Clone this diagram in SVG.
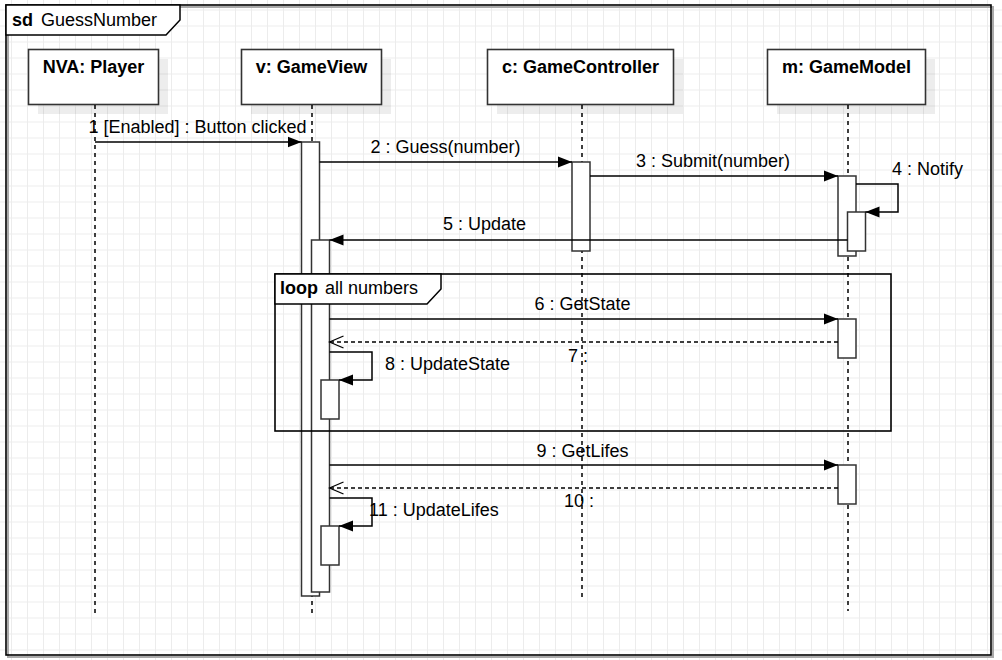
<svg xmlns="http://www.w3.org/2000/svg" width="1002" height="660" viewBox="0 0 1002 660">
<defs>
<pattern id="grid" patternUnits="userSpaceOnUse" x="11" y="9.5" width="16" height="16">
<path d="M0.5 0V16M0 0.5H16" fill="none" stroke="#ececec" stroke-width="1"/>
</pattern>
<marker id="fill" markerUnits="userSpaceOnUse" markerWidth="16" markerHeight="12" refX="14" refY="6" orient="auto">
<path d="M0,0.5 L14,6 L0,11.5 z" fill="#000"/>
</marker>
<marker id="open" markerUnits="userSpaceOnUse" markerWidth="16" markerHeight="14" refX="14.5" refY="7" orient="auto">
<path d="M0.5,1 L14.5,7 L0.5,13" fill="none" stroke="#000" stroke-width="1.3"/>
</marker>
</defs>
<style>
text{font-family:"Liberation Sans",Arial,sans-serif;font-size:18px;fill:#000}
.b{font-weight:bold}
.head{fill:#fff;stroke:#333;stroke-width:1.6}
.shadow{fill:#000;fill-opacity:0.07}
.life{stroke:#000;stroke-width:1.5;stroke-dasharray:4 4;fill:none}
.act{fill:#fff;stroke:#333;stroke-width:1.5}
.msg{stroke:#000;stroke-width:1.5;fill:none;marker-end:url(#fill)}
.ret{stroke:#000;stroke-width:1.3;fill:none;stroke-dasharray:4 3;marker-end:url(#open)}
.frame{fill:none;stroke:#000;stroke-width:1.6}
.lbl{fill:#fff;stroke:#000;stroke-width:1.5}
</style>
<rect width="1002" height="660" fill="#fff"/>
<rect width="1002" height="660" fill="url(#grid)"/>

<g id="frame">
<rect x="8" y="7" width="985" height="650" fill="none" stroke="#aaa" stroke-width="2"/>
<rect x="6" y="5" width="985" height="650" class="frame"/>
<path d="M6,5 H180 V20 L166,35 H6 Z" class="lbl"/>
<text x="12" y="26" class="b">sd</text>
<text x="41" y="26">GuessNumber</text>
</g>

<g id="player">
<rect x="38" y="59" width="130" height="55" class="shadow"/>
<rect x="28.5" y="49.5" width="130" height="55" class="head"/>
<text x="93.5" y="73" text-anchor="middle" class="b">NVA: Player</text>
<line x1="95" y1="105" x2="95" y2="613" class="life"/>
</g>

<g id="gameview">
<rect x="251" y="59" width="140" height="55" class="shadow"/>
<rect x="241.5" y="49.5" width="140" height="55" class="head"/>
<text x="311.5" y="73" text-anchor="middle" class="b">v: GameView</text>
<line x1="312" y1="105" x2="312" y2="613" class="life"/>
<rect x="301.5" y="142" width="18" height="454" class="act"/>
<rect x="311.5" y="240" width="18" height="352" class="act"/>
<rect x="321" y="380" width="18" height="39" class="act"/>
<rect x="321" y="526" width="18" height="39" class="act"/>
</g>

<g id="gamecontroller">
<rect x="497" y="59" width="186" height="55" class="shadow"/>
<rect x="487.5" y="49.5" width="186" height="55" class="head"/>
<text x="580.5" y="73" text-anchor="middle" class="b">c: GameController</text>
<line x1="582" y1="105" x2="582" y2="597" class="life"/>
<rect x="572" y="162" width="18" height="89" class="act"/>
</g>

<g id="gamemodel">
<rect x="777" y="59" width="158" height="55" class="shadow"/>
<rect x="767.5" y="49.5" width="158" height="55" class="head"/>
<text x="846.5" y="73" text-anchor="middle" class="b">m: GameModel</text>
<line x1="848" y1="105" x2="848" y2="611" class="life"/>
<rect x="838" y="176" width="18" height="80" class="act"/>
<rect x="847.5" y="212" width="18" height="39" class="act"/>
<rect x="838" y="319" width="18" height="39" class="act"/>
<rect x="838" y="465" width="18" height="39" class="act"/>
</g>

<g id="loop">
<rect x="275" y="274" width="616" height="157" class="frame"/>
<path d="M275,274 H441 V289 L427,304 H275 Z" class="lbl"/>
<text x="280" y="294" class="b">loop</text>
<text x="325" y="294">all numbers</text>
</g>

<g id="connectors">
<line x1="95" y1="142" x2="301.5" y2="142" class="msg"/>
<text x="197.5" y="133" text-anchor="middle">1 [Enabled] : Button clicked</text>
<line x1="319.5" y1="162" x2="572" y2="162" class="msg"/>
<text x="445.5" y="153" text-anchor="middle">2 : Guess(number)</text>
<line x1="590" y1="176" x2="838" y2="176" class="msg"/>
<text x="713" y="167" text-anchor="middle">3 : Submit(number)</text>
<path d="M856,184 H898 V212 H865.5" class="msg"/>
<text x="892" y="175">4 : Notify</text>
<line x1="847.5" y1="240" x2="329.5" y2="240" class="msg"/>
<text x="484.5" y="230" text-anchor="middle">5 : Update</text>
<line x1="329.5" y1="319" x2="838" y2="319" class="msg"/>
<text x="582.5" y="310" text-anchor="middle">6 : GetState</text>
<line x1="838" y1="342" x2="329.5" y2="342" class="ret"/>
<text x="568" y="362">7 :</text>
<path d="M329.5,352 H372 V380 H339" class="msg"/>
<text x="385" y="370">8 : UpdateState</text>
<line x1="329.5" y1="465" x2="838" y2="465" class="msg"/>
<text x="582.5" y="457" text-anchor="middle">9 : GetLifes</text>
<line x1="838" y1="488" x2="329.5" y2="488" class="ret"/>
<text x="564" y="507">10 :</text>
<path d="M329.5,498 H372 V526 H339" class="msg"/>
<text x="369" y="516">11 : UpdateLifes</text>
</g>
</svg>
